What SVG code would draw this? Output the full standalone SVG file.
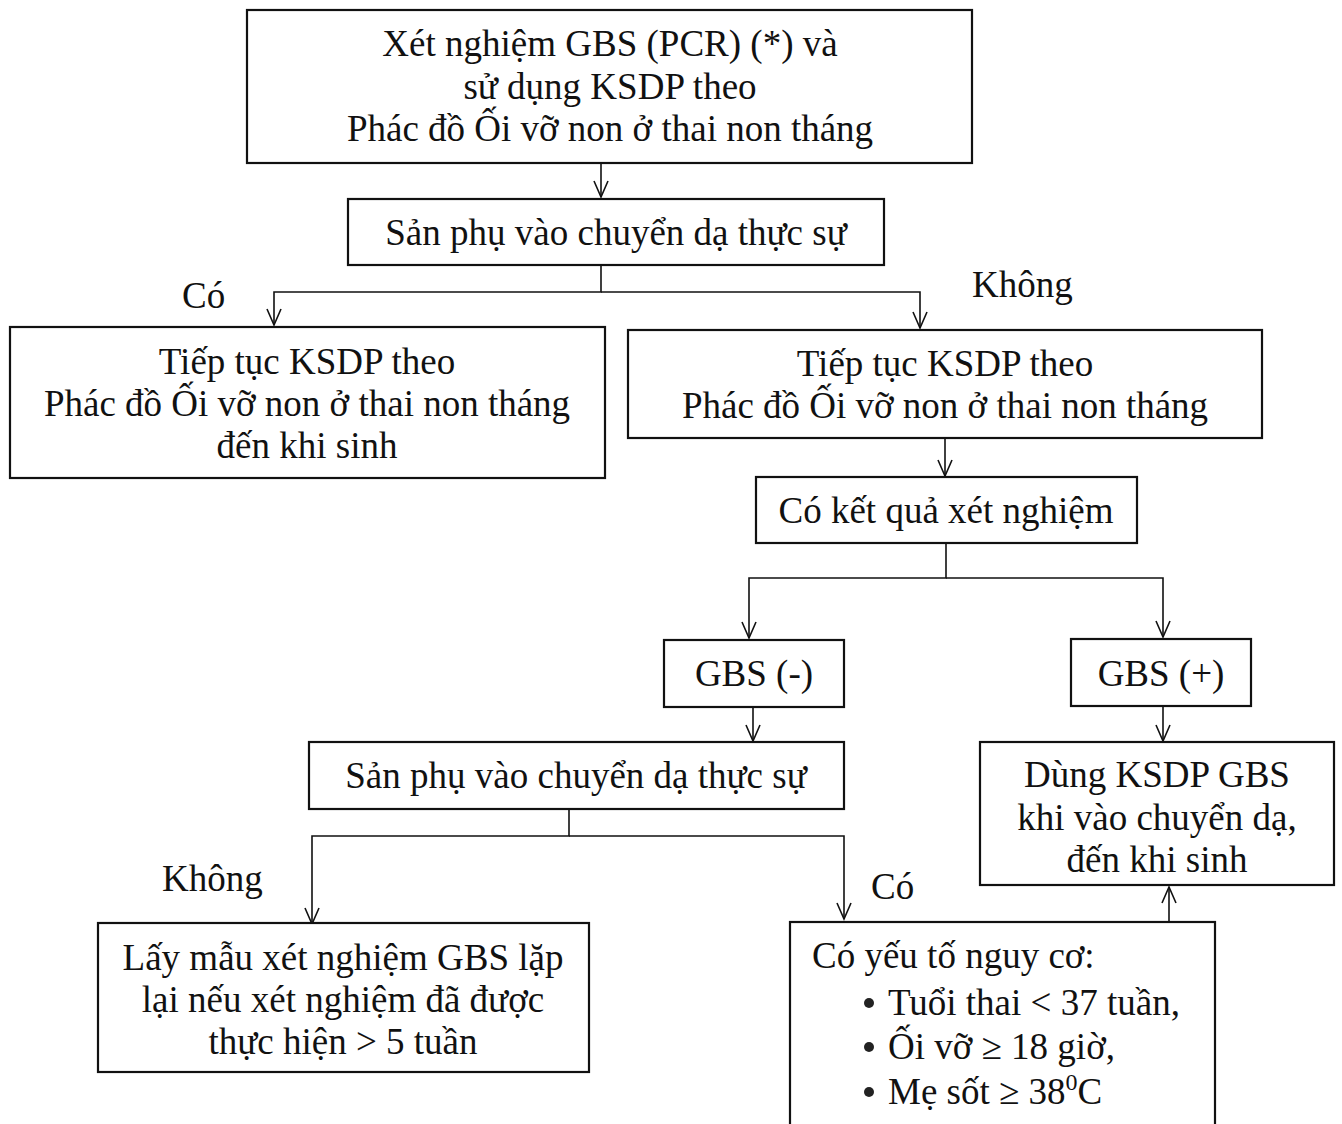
<svg xmlns="http://www.w3.org/2000/svg" width="1342" height="1124" viewBox="0 0 1342 1124">
  <style>
    .box { fill: #fff; stroke: #111; stroke-width: 2.2; }
    .t { font-family: "Liberation Serif", "Times New Roman", serif; font-size: 37px; fill: #111; }
    .c { text-anchor: middle; }
    .con { fill: none; stroke: #111; stroke-width: 1.6; }
    .dot { fill: #222; }
  </style>
  <defs>
    <marker id="arr" viewBox="-17 -9 19 18" markerWidth="19" markerHeight="18" refX="0" refY="0" markerUnits="userSpaceOnUse" orient="auto">
      <path d="M-16,-7 L0,0 L-16,7" fill="none" stroke="#111" stroke-width="1.6"/>
    </marker>
  </defs>
  <rect width="1342" height="1124" fill="#fff"/>

  <g id="connectors">
    <path class="con" d="M601,163 V197" marker-end="url(#arr)"/>
    <path class="con" d="M601,265 V292 H274 V325" marker-end="url(#arr)"/>
    <path class="con" d="M601,292 H920 V328" marker-end="url(#arr)"/>
    <path class="con" d="M945,438 V476" marker-end="url(#arr)"/>
    <path class="con" d="M946,543 V578 H749 V638" marker-end="url(#arr)"/>
    <path class="con" d="M946,578 H1163 V637" marker-end="url(#arr)"/>
    <path class="con" d="M753,707 V741" marker-end="url(#arr)"/>
    <path class="con" d="M1163,706 V741" marker-end="url(#arr)"/>
    <path class="con" d="M569,809 V836 H312 V924" marker-end="url(#arr)"/>
    <path class="con" d="M569,836 H844 V919" marker-end="url(#arr)"/>
    <path class="con" d="M1169,922 V887" marker-end="url(#arr)"/>
    <text class="t" x="182" y="308">Có</text>
    <text class="t" x="972" y="297">Không</text>
    <text class="t" x="162" y="891">Không</text>
    <text class="t" x="871" y="899">Có</text>
  </g>

  <g id="n1">
    <rect class="box" x="247" y="10" width="725" height="153"/>
    <text class="t c" x="610" y="56">Xét nghiệm GBS (PCR) (*) và</text>
    <text class="t c" x="610" y="99">sử dụng KSDP theo</text>
    <text class="t c" x="610" y="141">Phác đồ Ối vỡ non ở thai non tháng</text>
  </g>
  <g id="n2">
    <rect class="box" x="348" y="199" width="536" height="66"/>
    <text class="t c" x="616" y="245">Sản phụ vào chuyển dạ thực sự</text>
  </g>
  <g id="n3">
    <rect class="box" x="10" y="327" width="595" height="151"/>
    <text class="t c" x="307" y="374">Tiếp tục KSDP theo</text>
    <text class="t c" x="307" y="416">Phác đồ Ối vỡ non ở thai non tháng</text>
    <text class="t c" x="307" y="458">đến khi sinh</text>
  </g>
  <g id="n4">
    <rect class="box" x="628" y="330" width="634" height="108"/>
    <text class="t c" x="945" y="376">Tiếp tục KSDP theo</text>
    <text class="t c" x="945" y="418">Phác đồ Ối vỡ non ở thai non tháng</text>
  </g>
  <g id="n5">
    <rect class="box" x="756" y="477" width="381" height="66"/>
    <text class="t c" x="946" y="523">Có kết quả xét nghiệm</text>
  </g>
  <g id="n6">
    <rect class="box" x="664" y="640" width="180" height="67"/>
    <text class="t c" x="754" y="686">GBS (-)</text>
  </g>
  <g id="n7">
    <rect class="box" x="1071" y="639" width="180" height="67"/>
    <text class="t c" x="1161" y="686">GBS (+)</text>
  </g>
  <g id="n8">
    <rect class="box" x="309" y="742" width="535" height="67"/>
    <text class="t c" x="576" y="788">Sản phụ vào chuyển dạ thực sự</text>
  </g>
  <g id="n9">
    <rect class="box" x="980" y="742" width="354" height="143"/>
    <text class="t c" x="1157" y="787">Dùng KSDP GBS</text>
    <text class="t c" x="1157" y="830">khi vào chuyển dạ,</text>
    <text class="t c" x="1157" y="872">đến khi sinh</text>
  </g>
  <g id="n10">
    <rect class="box" x="98" y="923" width="491" height="149"/>
    <text class="t c" x="343" y="970">Lấy mẫu xét nghiệm GBS lặp</text>
    <text class="t c" x="343" y="1012">lại nếu xét nghiệm đã được</text>
    <text class="t c" x="343" y="1054">thực hiện &gt; 5 tuần</text>
  </g>
  <g id="n11">
    <rect class="box" x="790" y="922" width="425" height="230"/>
    <text class="t" x="812" y="968">Có yếu tố nguy cơ:</text>
    <circle class="dot" cx="869" cy="1003" r="5"/>
    <text class="t" x="888" y="1015">Tuổi thai &lt; 37 tuần,</text>
    <circle class="dot" cx="869" cy="1047" r="5"/>
    <text class="t" x="888" y="1059">Ối vỡ ≥ 18 giờ,</text>
    <circle class="dot" cx="869" cy="1092" r="5"/>
    <text class="t" x="888" y="1104">Mẹ sốt ≥ 38<tspan dy="-14" font-size="24">0</tspan><tspan dy="14">C</tspan></text>
  </g>
</svg>
